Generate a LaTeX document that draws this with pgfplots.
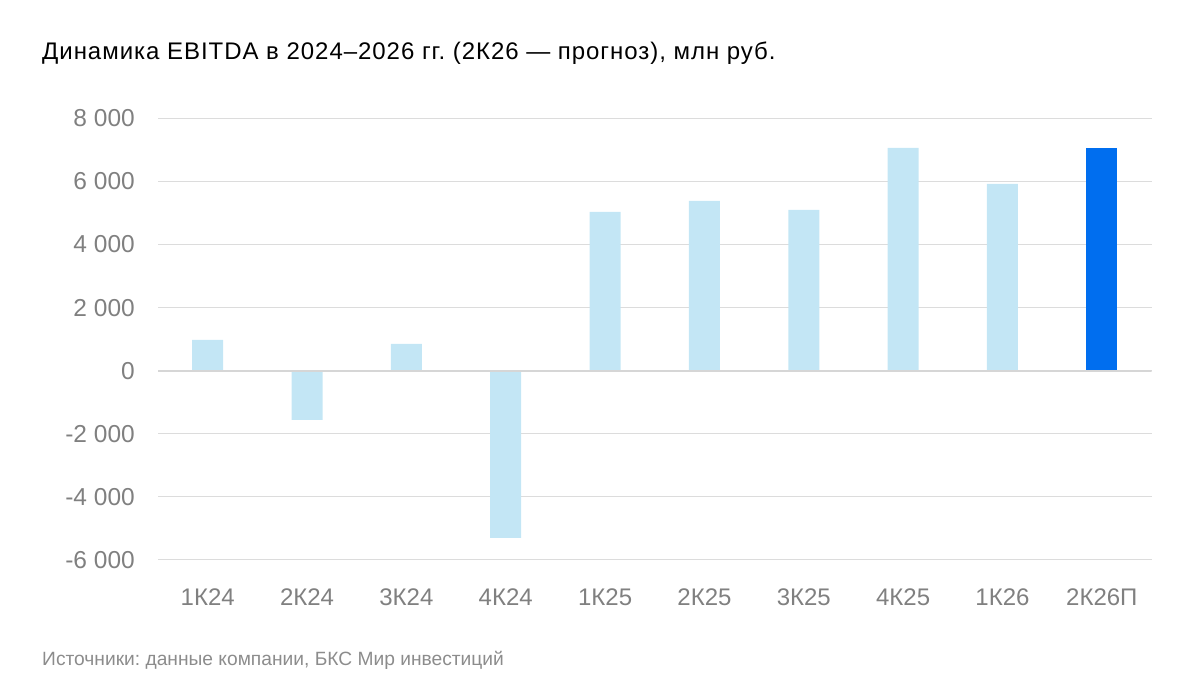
\documentclass[border=0pt]{standalone}
\usepackage{fontspec}
\setmainfont{Liberation Sans}
\newfontfamily\titlefont[LetterSpace=4]{Liberation Sans}
\usepackage{pgfplots}
\pgfplotsset{compat=1.18}
\definecolor{lightbar}{HTML}{C3E6F5}
\definecolor{darkbar}{HTML}{006EEF}
\definecolor{gridc}{HTML}{DCDCDC}
\definecolor{zeroc}{HTML}{D6D6D6}
\definecolor{tickc}{HTML}{808080}
\definecolor{footc}{HTML}{8C8C8C}
\frenchspacing
\begin{document}
\begin{tikzpicture}[x=1bp,y=1bp]
\path[use as bounding box] (0,0) rectangle (1198,683);
\node[anchor=base west, inner sep=0pt, font=\titlefont\fontsize{24bp}{28bp}\selectfont] at (42,623.7) {Динамика EBITDA в 2024–2026 гг. (2К26 — прогноз), млн руб.};
\node[anchor=base west, inner sep=0pt, text=footc, font=\fontsize{19.2bp}{23bp}\selectfont] at (42,17.5) {Источники: данные компании, БКС Мир инвестиций};
\begin{axis}[
  at={(158bp,123bp)}, anchor=south west,
  scale only axis, width=993.5bp, height=441.7bp,
  xmin=-0.5, xmax=9.5, ymin=-6000, ymax=8000,
  axis line style={draw=none},
  tick style={draw=none},
  ytick={-6000,-4000,-2000,0,2000,4000,6000,8000},
  yticklabels={-6 000,-4 000,-2 000,0,2 000,4 000,6 000,8 000},
  xtick={0,...,9},
  xticklabels={1К24,2К24,3К24,4К24,1К25,2К25,3К25,4К25,1К26,2К26П},
  ymajorgrids,
  grid style={draw=gridc, line width=1bp},
  yticklabel style={anchor=east, inner sep=0pt, xshift=-23bp, text=tickc, font=\fontsize{24.5bp}{28bp}\selectfont},
  xticklabel style={anchor=base, inner sep=0pt, yshift=-41.7bp, text=tickc, font=\fontsize{24bp}{28bp}\selectfont},
  ybar, bar width=31bp, bar shift=0pt,
]
\addplot[fill=lightbar, draw=none] coordinates {(0,975) (1,-1560) (2,846) (3,-5300) (4,5030) (5,5380) (6,5095) (7,7060) (8,5918)};
\addplot[fill=darkbar, draw=none] coordinates {(9,7060)};
\draw[zeroc, line width=2bp] (axis cs:-0.5,0) -- (axis cs:9.5,0);
\end{axis}
\end{tikzpicture}
\end{document}
